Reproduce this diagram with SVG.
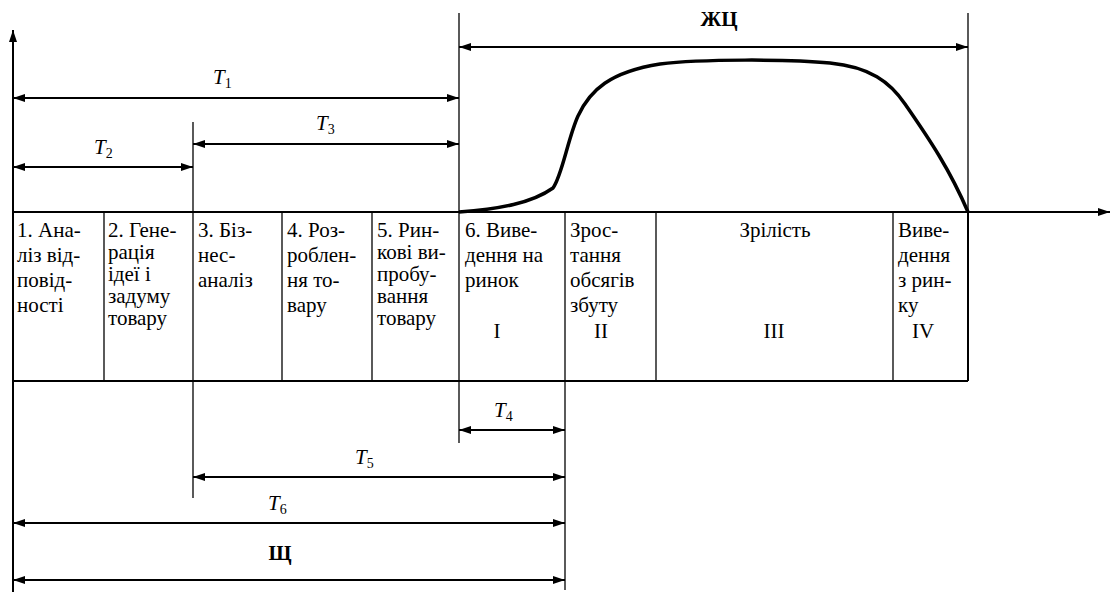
<svg xmlns="http://www.w3.org/2000/svg" width="1111" height="595" viewBox="0 0 1111 595">
<style>
.t{font-family:"Liberation Serif","DejaVu Serif","Noto Serif",serif;font-size:21px;fill:#000}
.b{font-weight:bold}
.ti{font-family:"Liberation Serif","DejaVu Serif","Noto Serif",serif;font-size:21px;font-style:italic;fill:#000}
.sub{font-size:14px;font-style:normal}
.ln{stroke:#000;stroke-width:1.3;fill:none}
.ax{stroke:#000;stroke-width:2;fill:none}
.ar{stroke:#000;stroke-width:2;fill:none;marker-start:url(#ah);marker-end:url(#ah)}
</style>
<defs>
<marker id="ah" viewBox="0 0 12 8" refX="12" refY="4" markerWidth="12" markerHeight="8" markerUnits="userSpaceOnUse" orient="auto-start-reverse">
<path d="M0,0 L12,4 L0,8 z" fill="#000"/>
</marker>
<marker id="ae" viewBox="0 0 12 8" refX="12" refY="4" markerWidth="12" markerHeight="8" markerUnits="userSpaceOnUse" orient="auto">
<path d="M0,0 L12,4 L0,8 z" fill="#000"/>
</marker>
</defs>
<rect width="1111" height="595" fill="#fff"/>

<g id="axes">
<line class="ax" x1="13" y1="592" x2="13" y2="30" marker-end="url(#ae)"/>
<line class="ax" x1="13" y1="212" x2="1110" y2="212" marker-end="url(#ae)"/>
</g>

<g id="guides">
<line class="ln" x1="459" y1="13" x2="459" y2="443"/>
<line class="ln" x1="968" y1="13" x2="968" y2="381"/>
<line class="ln" x1="193" y1="122" x2="193" y2="498"/>
<line class="ln" x1="565" y1="212" x2="565" y2="590"/>
</g>

<g id="table">
<line class="ax" x1="13" y1="381" x2="968" y2="381"/>
<line class="ax" x1="968" y1="212" x2="968" y2="381"/>
<line class="ln" x1="104" y1="212" x2="104" y2="381"/>
<line class="ln" x1="282" y1="212" x2="282" y2="381"/>
<line class="ln" x1="372" y1="212" x2="372" y2="381"/>
<line class="ln" x1="656" y1="212" x2="656" y2="381"/>
<line class="ln" x1="893" y1="212" x2="893" y2="381"/>
</g>

<g id="stage1"><text class="t" x="17" y="237">1. Ана-</text><text class="t" x="17" y="262">ліз від-</text><text class="t" x="17" y="287">повід-</text><text class="t" x="17" y="312">ності</text></g>
<g id="stage2"><text class="t" x="108" y="237">2. Гене-</text><text class="t" x="108" y="259">рація</text><text class="t" x="108" y="281">ідеї і</text><text class="t" x="108" y="303">задуму</text><text class="t" x="108" y="325">товару</text></g>
<g id="stage3"><text class="t" x="198" y="237">3. Біз-</text><text class="t" x="198" y="262">нес-</text><text class="t" x="198" y="287">аналіз</text></g>
<g id="stage4"><text class="t" x="287" y="237">4. Роз-</text><text class="t" x="287" y="262">роблен-</text><text class="t" x="287" y="287">ня то-</text><text class="t" x="287" y="312">вару</text></g>
<g id="stage5"><text class="t" x="377" y="237">5. Рин-</text><text class="t" x="377" y="259">кові ви-</text><text class="t" x="377" y="281">пробу-</text><text class="t" x="377" y="303">вання</text><text class="t" x="377" y="325">товару</text></g>
<g id="stage6"><text class="t" x="465" y="237">6. Виве-</text><text class="t" x="465" y="262">дення на</text><text class="t" x="465" y="287">ринок</text><text class="t" x="497" y="338" text-anchor="middle">I</text></g>
<g id="growth"><text class="t" x="570" y="237">Зрос-</text><text class="t" x="570" y="262">тання</text><text class="t" x="570" y="287">обсягів</text><text class="t" x="570" y="312">збуту</text><text class="t" x="601" y="338" text-anchor="middle">II</text></g>
<g id="maturity"><text class="t" x="775" y="237" text-anchor="middle">Зрілість</text><text class="t" x="774" y="338" text-anchor="middle">III</text></g>
<g id="decline"><text class="t" x="898" y="237">Виве-</text><text class="t" x="898" y="262">дення</text><text class="t" x="898" y="287">з рин-</text><text class="t" x="898" y="312">ку</text><text class="t" x="923" y="338" text-anchor="middle">IV</text></g>

<g id="curve">
<path d="M459,212 C500,209 532,203 553,188 C562,176 568,138 578,116 C590,90 610,72 660,64 C700,59 790,59 830,63 C870,67 890,82 905,104 C930,140 950,170 968,212" stroke="#000" stroke-width="3.5" fill="none"/>
</g>

<g id="connectors">
<line class="ar" x1="459" y1="47" x2="968" y2="47"/>
<line class="ar" x1="13" y1="98" x2="459" y2="98"/>
<line class="ar" x1="193" y1="144" x2="459" y2="144"/>
<line class="ar" x1="13" y1="167" x2="193" y2="167"/>
<line class="ar" x1="459" y1="430" x2="565" y2="430"/>
<line class="ar" x1="193" y1="477" x2="565" y2="477"/>
<line class="ar" x1="13" y1="523" x2="565" y2="523"/>
<line class="ar" x1="13" y1="580" x2="565" y2="580"/>
</g>

<g id="labels">
<text class="t b" x="719" y="26" text-anchor="middle">ЖЦ</text>
<text class="ti" x="213" y="84">T<tspan class="sub" dy="4">1</tspan></text>
<text class="ti" x="316" y="130">T<tspan class="sub" dy="4">3</tspan></text>
<text class="ti" x="94" y="154">T<tspan class="sub" dy="4">2</tspan></text>
<text class="ti" x="494" y="417">T<tspan class="sub" dy="4">4</tspan></text>
<text class="ti" x="355" y="464">T<tspan class="sub" dy="4">5</tspan></text>
<text class="ti" x="268" y="510">T<tspan class="sub" dy="4">6</tspan></text>
<text class="t b" x="280" y="560" text-anchor="middle">Щ</text>
</g>
</svg>
